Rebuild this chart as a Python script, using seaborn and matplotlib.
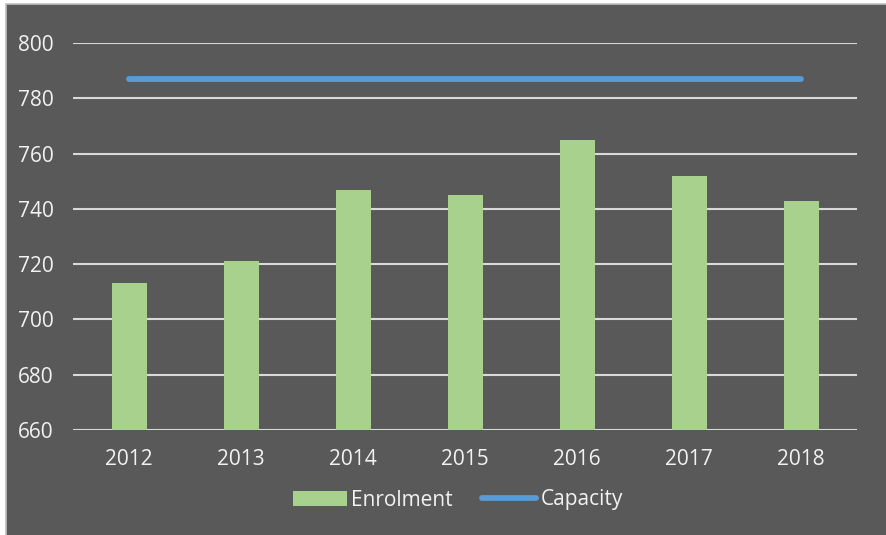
import matplotlib
matplotlib.use("Agg")
import matplotlib.pyplot as plt
import seaborn as sns
import pandas as pd
from matplotlib.patches import Patch, Rectangle
from matplotlib.lines import Line2D

years = ["2012", "2013", "2014", "2015", "2016", "2017", "2018"]
enrolment = [713, 721, 747, 745, 765, 752, 743]
capacity = [787, 787, 787, 787, 787, 787, 787]
y_ticks = [660, 680, 700, 720, 740, 760, 780, 800]

BG = "#595959"
GREEN = "#A9D18E"
BLUE = "#5B9BD5"
GRID = "#D9D9D9"
TXT = "#F2F2F2"

sns.set_theme(style="white")
plt.rcParams["font.family"] = ["Open Sans", "DejaVu Sans"]

W, H = 886, 535
fig = plt.figure(figsize=(W / 100, H / 100), dpi=100, facecolor="white")
# dark chart area with thin border (only left/top visible)
fig.patches.append(Rectangle((5.5 / W, -0.05), 1.1, 1.05 - 3.5 / H, transform=fig.transFigure,
                             facecolor=BG, edgecolor="#BFBFBF", linewidth=1.2, zorder=-5))

ax = fig.add_axes([73 / W, 1 - 430 / H, (857 - 73) / W, (430 - 43) / H])
ax.set_facecolor(BG)
ax.patch.set_alpha(0)

df = pd.DataFrame({"year": years, "enrolment": enrolment})
sns.barplot(data=df, x="year", y="enrolment", color=GREEN, width=0.3125,
            saturation=1, ax=ax, zorder=3, edgecolor="none", linewidth=0)
sns.lineplot(x=list(range(len(years))), y=capacity, color=BLUE, linewidth=4.2,
             ax=ax, zorder=4, solid_capstyle="round")

ax.set_xlim(-0.5, len(years) - 0.5)
ax.set_ylim(660, 800)
ax.set_yticks(y_ticks)
ax.set_yticklabels([str(v) for v in y_ticks])
ax.yaxis.grid(True, color=GRID, linewidth=1.5, zorder=0)
ax.xaxis.grid(False)
ax.set_axisbelow(True)
for s in ax.spines.values():
    s.set_visible(False)
ax.tick_params(axis="both", length=0, labelsize=15, labelcolor=TXT)
ax.tick_params(axis="y", pad=14)
ax.tick_params(axis="x", pad=14)
ax.set_xlabel("")
ax.set_ylabel("")

handles = [Patch(facecolor=GREEN, edgecolor="none"),
           Line2D([0], [0], color=BLUE, linewidth=4.2, solid_capstyle="round")]
fig.legend(handles, ["Enrolment", "Capacity"], loc="center", ncol=2,
           bbox_to_anchor=(458 / W, 1 - 500 / H), frameon=False,
           fontsize=15, labelcolor=TXT, handlelength=2.6, handletextpad=0.2,
           columnspacing=1.4, handleheight=0.7)

fig.savefig("out.png", dpi=100, facecolor=fig.get_facecolor())
